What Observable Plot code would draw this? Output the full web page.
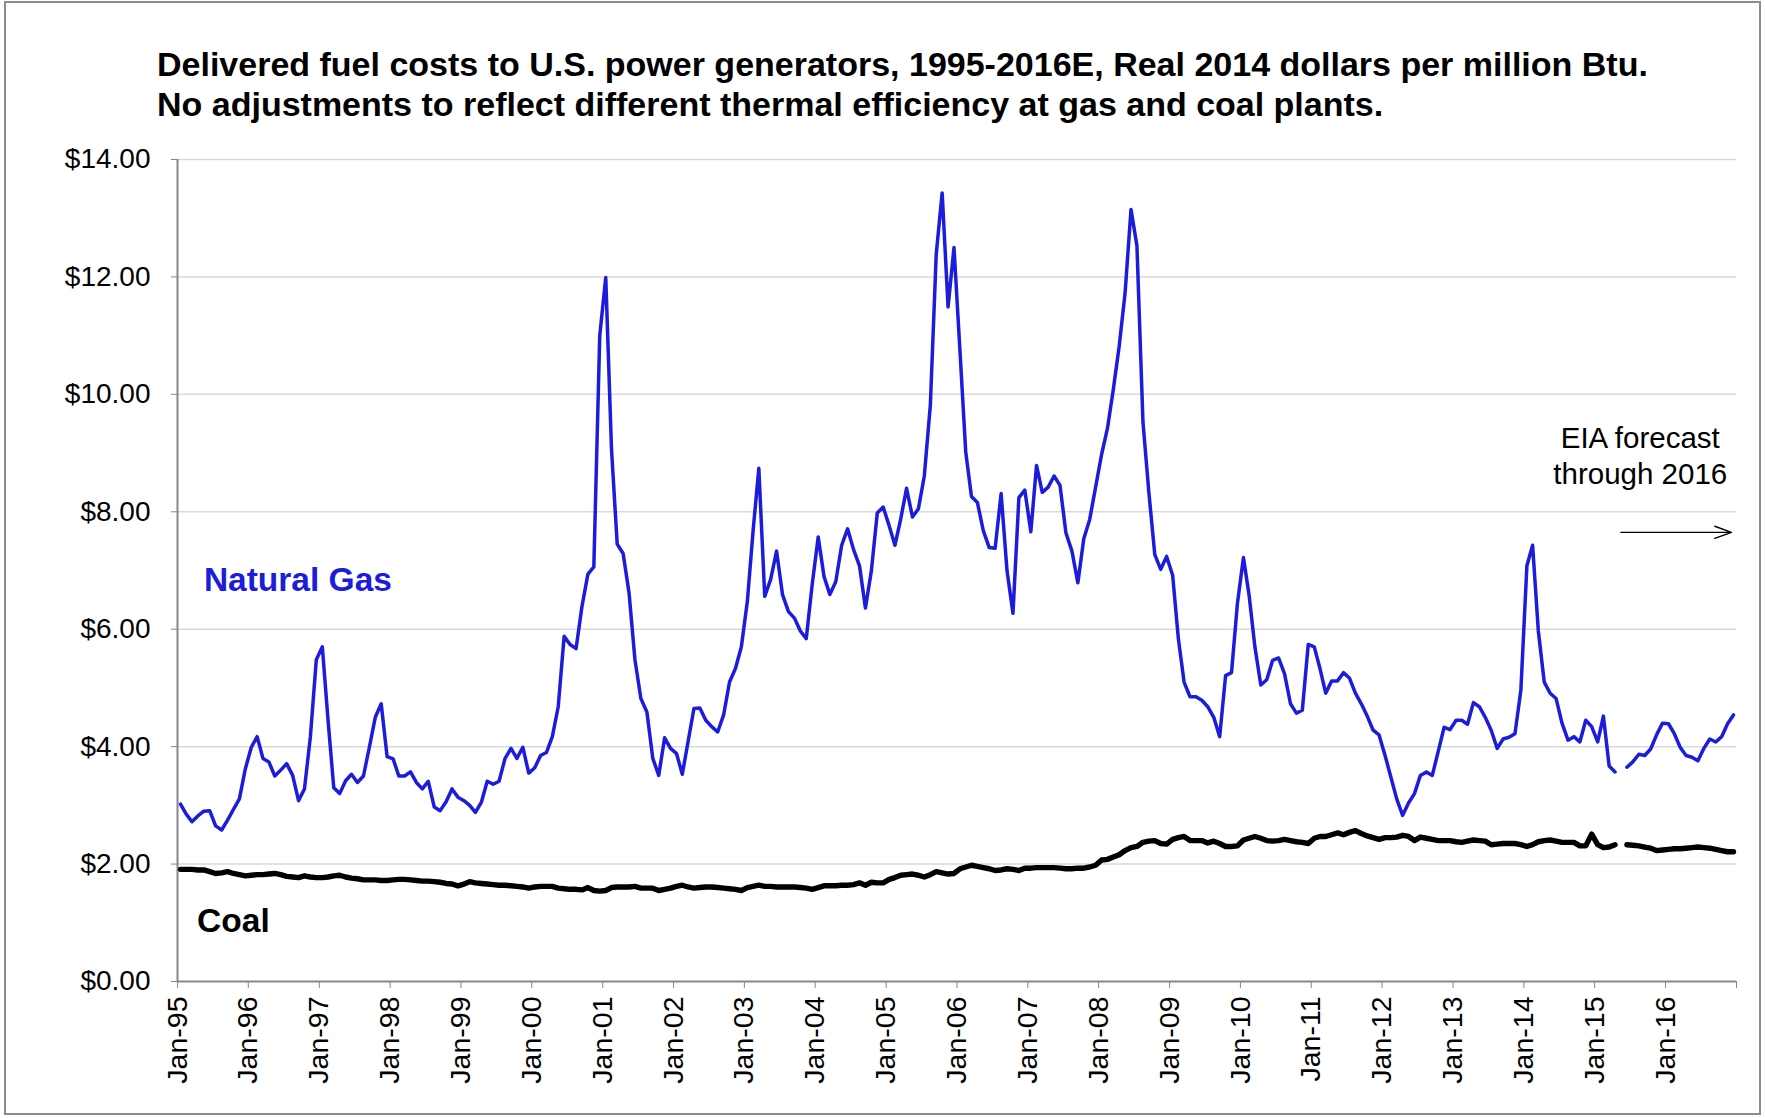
<!DOCTYPE html>
<html>
<head>
<meta charset="utf-8">
<script src="https://cdn.jsdelivr.net/npm/d3@7"></script>
<script src="https://cdn.jsdelivr.net/npm/@observablehq/plot@0.6"></script>
<style>
  body { margin: 0; background: #fff; font-family: "Liberation Sans", Arial, sans-serif; }
  #page { position: relative; width: 1765px; height: 1118px; overflow: hidden; background: #fff; }
  #frame { position: absolute; left: 4px; top: 1px; width: 1757px; height: 1114px; border: 2px solid #8c8c8c; box-sizing: border-box; pointer-events: none; }
  #title { position: absolute; left: 157px; top: 0; height: 140px; padding-top: 44px; box-sizing: border-box; font-weight: bold; font-size: 34px; line-height: 40px; color: #000; white-space: nowrap; }
  #chart { position: absolute; left: 0; top: 140px; }
</style>
</head>
<body>
<div id="page">
  <div id="title">Delivered fuel costs to U.S. power generators, 1995-2016E, Real 2014 dollars per million Btu.<br>No adjustments to reflect different thermal efficiency at gas and coal plants.</div>
  <div id="chart"></div>
  <div id="frame"></div>
</div>
<script>
// Monthly values, Jan 1995 – Dec 2016 (real 2014 $/MMBtu); null = break at start of forecast
const naturalGas = [
  3.02, 2.85, 2.72, 2.82, 2.90, 2.91, 2.65, 2.58, 2.75, 2.93, 3.11, 3.62, // 1995
  3.99, 4.17, 3.80, 3.74, 3.50, 3.60, 3.71, 3.51, 3.08, 3.28, 4.17, 5.48, // 1996
  5.70, 4.45, 3.30, 3.20, 3.42, 3.53, 3.39, 3.50, 3.99, 4.50, 4.73, 3.83, // 1997
  3.79, 3.50, 3.50, 3.57, 3.39, 3.28, 3.41, 2.97, 2.91, 3.06, 3.28, 3.14, // 1998
  3.08, 3.00, 2.88, 3.05, 3.41, 3.36, 3.41, 3.80, 3.97, 3.80, 3.99, 3.55, // 1999
  3.64, 3.85, 3.90, 4.17, 4.68, 5.88, 5.74, 5.67, 6.39, 6.94, 7.06, 11.00, // 2000
  11.99, 9.07, 7.45, 7.29, 6.62, 5.48, 4.82, 4.59, 3.80, 3.51, 4.15, 3.97, // 2001
  3.88, 3.53, 4.08, 4.65, 4.66, 4.45, 4.34, 4.25, 4.54, 5.10, 5.33, 5.70, // 2002
  6.48, 7.68, 8.74, 6.56, 6.85, 7.33, 6.59, 6.30, 6.19, 5.97, 5.84, 6.76, // 2003
  7.57, 6.90, 6.59, 6.81, 7.43, 7.71, 7.36, 7.08, 6.36, 6.99, 7.98, 8.08, // 2004
  7.76, 7.43, 7.87, 8.40, 7.91, 8.05, 8.61, 9.81, 12.39, 13.43, 11.49, 12.50, // 2005
  10.73, 9.02, 8.26, 8.16, 7.68, 7.39, 7.38, 8.31, 6.99, 6.27, 8.24, 8.37, // 2006
  7.66, 8.79, 8.33, 8.42, 8.61, 8.45, 7.64, 7.33, 6.79, 7.54, 7.87, 8.42, // 2007
  8.98, 9.42, 10.08, 10.82, 11.73, 13.15, 12.53, 9.53, 8.33, 7.27, 7.02, 7.24, // 2008
  6.92, 5.84, 5.10, 4.85, 4.85, 4.79, 4.68, 4.50, 4.17, 5.21, 5.26, 6.44, // 2009
  7.22, 6.57, 5.70, 5.05, 5.14, 5.47, 5.51, 5.24, 4.73, 4.57, 4.62, 5.74, // 2010
  5.70, 5.33, 4.91, 5.12, 5.12, 5.26, 5.17, 4.91, 4.73, 4.52, 4.28, 4.20, // 2011
  3.85, 3.48, 3.11, 2.83, 3.04, 3.20, 3.51, 3.57, 3.51, 3.92, 4.33, 4.29, // 2012
  4.45, 4.45, 4.38, 4.75, 4.68, 4.50, 4.28, 3.97, 4.13, 4.16, 4.22, 4.96, // 2013
  7.08, 7.43, 5.97, 5.10, 4.91, 4.82, 4.40, 4.11, 4.17, 4.08, 4.45, 4.34, // 2014
  4.08, 4.52, 3.67, 3.57, null, 3.65, 3.74, 3.87, 3.85, 3.96, 4.20, 4.40, // 2015
  4.39, 4.22, 3.99, 3.85, 3.82, 3.76, 3.97, 4.13, 4.08, 4.17, 4.39, 4.54  // 2016
];
const coal = [
  1.91, 1.91, 1.91, 1.90, 1.90, 1.87, 1.84, 1.85, 1.87, 1.84, 1.82, 1.80, // 1995
  1.81, 1.82, 1.82, 1.83, 1.84, 1.82, 1.79, 1.78, 1.77, 1.80, 1.78, 1.77, // 1996
  1.77, 1.78, 1.80, 1.81, 1.78, 1.76, 1.75, 1.73, 1.73, 1.73, 1.72, 1.72, // 1997
  1.73, 1.74, 1.74, 1.73, 1.72, 1.71, 1.71, 1.70, 1.69, 1.67, 1.66, 1.63, // 1998
  1.66, 1.70, 1.68, 1.67, 1.66, 1.65, 1.64, 1.64, 1.63, 1.62, 1.61, 1.59, // 1999
  1.61, 1.62, 1.62, 1.62, 1.59, 1.58, 1.57, 1.57, 1.56, 1.60, 1.55, 1.54, // 2000
  1.55, 1.60, 1.61, 1.61, 1.61, 1.62, 1.59, 1.59, 1.59, 1.55, 1.57, 1.59, // 2001
  1.62, 1.64, 1.61, 1.59, 1.60, 1.61, 1.61, 1.60, 1.59, 1.58, 1.57, 1.55, // 2002
  1.60, 1.62, 1.64, 1.62, 1.62, 1.61, 1.61, 1.61, 1.61, 1.60, 1.59, 1.57, // 2003
  1.60, 1.63, 1.63, 1.63, 1.64, 1.64, 1.65, 1.68, 1.64, 1.69, 1.68, 1.68, // 2004
  1.74, 1.77, 1.81, 1.82, 1.83, 1.81, 1.78, 1.82, 1.87, 1.85, 1.83, 1.84, // 2005
  1.92, 1.95, 1.98, 1.96, 1.94, 1.92, 1.89, 1.90, 1.92, 1.91, 1.89, 1.93, // 2006
  1.93, 1.94, 1.94, 1.94, 1.94, 1.93, 1.92, 1.92, 1.93, 1.93, 1.95, 1.98, // 2007
  2.07, 2.08, 2.12, 2.16, 2.23, 2.28, 2.30, 2.37, 2.39, 2.40, 2.35, 2.34, // 2008
  2.42, 2.45, 2.47, 2.40, 2.40, 2.40, 2.36, 2.39, 2.35, 2.30, 2.30, 2.31, // 2009
  2.41, 2.44, 2.47, 2.44, 2.40, 2.39, 2.40, 2.42, 2.40, 2.38, 2.37, 2.35, // 2010
  2.44, 2.47, 2.47, 2.50, 2.53, 2.50, 2.54, 2.57, 2.52, 2.48, 2.45, 2.42, // 2011
  2.45, 2.45, 2.46, 2.49, 2.47, 2.40, 2.46, 2.44, 2.42, 2.40, 2.40, 2.40, // 2012
  2.38, 2.37, 2.39, 2.41, 2.40, 2.39, 2.33, 2.34, 2.35, 2.35, 2.35, 2.33, // 2013
  2.30, 2.33, 2.38, 2.40, 2.41, 2.39, 2.37, 2.37, 2.37, 2.31, 2.31, 2.51, // 2014
  2.33, 2.28, 2.29, 2.33, null, 2.33, 2.32, 2.31, 2.29, 2.27, 2.23, 2.24, // 2015
  2.25, 2.26, 2.26, 2.27, 2.28, 2.29, 2.28, 2.27, 2.25, 2.23, 2.21, 2.21  // 2016
];

// Axis ticks and labels
const tickYears = [1995,1996,1997,1998,1999,2000,2001,2002,2003,2004,2005,2006,2007,2008,2009,2010,2011,2012,2013,2014,2015,2016,2017];
const tickLabels = ["Jan-95","Jan-96","Jan-97","Jan-98","Jan-99","Jan-00","Jan-01","Jan-02","Jan-03","Jan-04","Jan-05","Jan-06","Jan-07","Jan-08","Jan-09","Jan-10","Jan-11","Jan-12","Jan-13","Jan-14","Jan-15","Jan-16",""];
const yTicks = [0, 2, 4, 6, 8, 10, 12, 14];
const yTickLabels = ["$0.00","$2.00","$4.00","$6.00","$8.00","$10.00","$12.00","$14.00"];

// Annotations (data coordinates)
const seriesLabels = [
  {text: "Natural Gas", date: "1995-05-17", value: 6.83, color: "#1c1cdc"},
  {text: "Coal", date: "1995-04-12", value: 1.02, color: "#000000"}
];
const forecastNote = {text: "EIA forecast\nthrough 2016", date: "2015-08-24", value: 8.97};
const forecastArrow = {from: "2015-05-16", to: "2016-12-06", value: 7.65};

const gasColor = "#1c1cdc";
const axisGray = "#878787";
const midMonth = i => new Date((Date.UTC(1995, i, 1) + Date.UTC(1995, i + 1, 1)) / 2);
const rows = naturalGas.map((g, i) => ({date: midMonth(i), gas: g, coal: coal[i]}));
const xTicks = tickYears.map(y => new Date(Date.UTC(y, 0, 1)));
const labelByTime = new Map(xTicks.map((d, i) => [d.getTime(), tickLabels[i]]));
const yLabelByValue = new Map(yTicks.map((v, i) => [v, yTickLabels[i]]));

const chart = Plot.plot({
  width: 1765,
  height: 978,
  marginLeft: 177,
  marginRight: 29,
  marginTop: 19,
  marginBottom: 137,
  style: {fontFamily: "'Liberation Sans', Arial, sans-serif", background: "transparent", color: "black", overflow: "visible"},
  x: {type: "utc", domain: [xTicks[0], xTicks[xTicks.length - 1]]},
  y: {domain: [0, 14]},
  marks: [
    Plot.gridY(yTicks.filter(v => v > 0), {stroke: "#d9d9d9", strokeOpacity: 1, strokeWidth: 1.5}),
    Plot.axisY({ticks: yTicks, tickFormat: v => yLabelByValue.get(v), tickSize: 6, tickPadding: 21, fontSize: 28, stroke: axisGray, fill: "black", label: null}),
    Plot.axisX({ticks: xTicks, tickFormat: d => labelByTime.get(d.getTime()), tickRotate: -90, tickSize: 7, tickPadding: 8, fontSize: 28.5, stroke: axisGray, fill: "black", label: null}),
    Plot.ruleX([xTicks[0]], {stroke: axisGray, strokeWidth: 2}),
    Plot.ruleY([0], {stroke: axisGray, strokeWidth: 2}),
    Plot.line(rows, {x: "date", y: "gas", stroke: gasColor, strokeWidth: 3.5}),
    Plot.line(rows, {x: "date", y: "coal", stroke: "black", strokeWidth: 5.4}),
    Plot.text(seriesLabels, {x: d => new Date(d.date), y: "value", text: "text", fill: "color", textAnchor: "start", fontSize: 33.5, fontWeight: "bold"}),
    Plot.text([forecastNote], {x: d => new Date(d.date), y: "value", text: "text", textAnchor: "middle", fontSize: 29.5, lineHeight: 1.22, fill: "black"}),
    Plot.arrow([forecastArrow], {x1: d => new Date(d.from), x2: d => new Date(d.to), y1: "value", y2: "value", stroke: "black", strokeWidth: 1.4, headLength: 19, headAngle: 40})
  ]
});
document.getElementById("chart").appendChild(chart);
</script>
</body>
</html>
